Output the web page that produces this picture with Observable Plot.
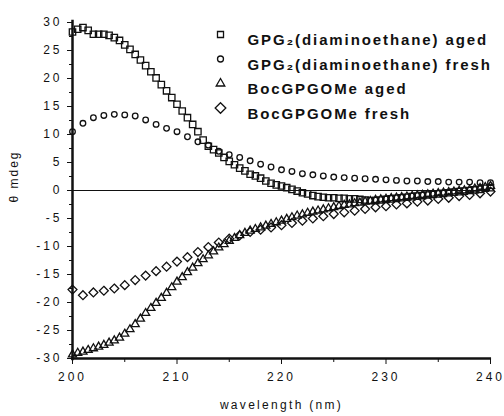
<!DOCTYPE html>
<html><head><meta charset="utf-8">
<script src="https://cdn.jsdelivr.net/npm/d3@7"></script>
<script src="https://cdn.jsdelivr.net/npm/@observablehq/plot@0.6"></script>
<style>
body{margin:0;background:#fff;}
#chart svg{display:block;}
#chart g[aria-label="y-axis tick label"] text,
#chart g[aria-label="x-axis tick label"] text{letter-spacing:3px;}
#chart .ylab text{letter-spacing:2px;}
#chart .xlab text{letter-spacing:2.3px;}
#chart .leg text{letter-spacing:1.9px;}
</style></head><body><div id="chart"></div>
<script>
// wavelength grids (nm)
const wlFine = d3.range(200, 240.001, 0.5);   // 0.5 nm sampling
const wlCoarse = d3.range(200, 240.001, 1);   // 1 nm sampling

// GPG2(diaminoethane) aged  (0.5 nm)
const gpgAged = [
  28.3,28.8,29.1,28.6,27.9,27.9,27.9,27.7,27.3,26.8,
  26.0,25.2,24.3,23.3,22.3,21.2,20.1,18.9,17.8,16.6,
  15.4,14.2,13.0,11.8,10.5,9.0,7.9,7.3,6.7,5.9,
  5.2,4.6,4.0,3.5,2.9,2.6,2.2,1.7,1.3,1.0,
  0.8,0.5,0.2,-0.1,-0.4,-0.6,-0.9,-1.1,-1.2,-1.3,
  -1.3,-1.4,-1.4,-1.5,-1.5,-1.6,-1.7,-1.8,-1.8,-1.7,
  -1.6,-1.5,-1.4,-1.3,-1.2,-1.1,-1.0,-0.9,-0.8,-0.7,
  -0.6,-0.5,-0.4,-0.3,-0.2,-0.1,0.0,0.1,0.2,0.4,
  0.5
];
// GPG2(diaminoethane) fresh (1 nm)
const gpgFresh = [
  10.5,12.0,13.0,13.4,13.6,13.5,13.3,12.6,11.8,11.1,
  10.5,9.6,8.7,8.1,7.0,6.4,5.9,5.3,4.7,4.2,
  3.7,3.4,3.0,2.8,2.6,2.4,2.3,2.2,2.1,2.0,
  1.9,1.8,1.7,1.7,1.6,1.6,1.5,1.5,1.5,1.4,
  1.4
];
// BocGPGOMe aged (0.5 nm)
const bocAged = [
  -29.3,-29.0,-28.8,-28.5,-28.2,-27.9,-27.6,-27.2,-26.8,-26.3,
  -25.6,-24.8,-23.9,-22.9,-21.9,-21.0,-20.1,-19.2,-18.3,-17.3,
  -16.3,-15.5,-14.6,-13.8,-13.0,-12.3,-11.6,-10.9,-10.2,-9.6,
  -9.0,-8.5,-8.0,-7.6,-7.2,-6.9,-6.6,-6.3,-6.0,-5.7,
  -5.4,-5.1,-4.8,-4.5,-4.3,-4.0,-3.8,-3.6,-3.4,-3.2,
  -3.0,-2.8,-2.6,-2.5,-2.3,-2.2,-2.0,-1.9,-1.7,-1.6,
  -1.5,-1.4,-1.3,-1.2,-1.1,-1.0,-0.9,-0.8,-0.7,-0.6,
  -0.5,-0.4,-0.3,-0.2,-0.1,0.0,0.1,0.3,0.4,0.6,
  0.8
];
// BocGPGOMe fresh (1 nm)
const bocFresh = [
  -17.7,-18.7,-18.2,-17.9,-17.5,-16.9,-16.0,-15.2,-14.4,-13.6,
  -12.7,-11.9,-11.0,-10.1,-9.3,-8.6,-8.0,-7.4,-7.0,-6.6,
  -6.2,-5.8,-5.4,-5.0,-4.6,-4.2,-3.9,-3.6,-3.3,-3.0,
  -2.8,-2.5,-2.3,-2.0,-1.8,-1.5,-1.3,-1.0,-0.8,-0.5,
  -0.2
];

const xMajor = [200, 210, 220, 230, 240];
const xMinor = [205, 215, 225, 235];
const yMajor = [-30, -25, -20, -15, -10, -5, 0, 5, 10, 15, 20, 25, 30];
const yMinor = [-27.5, -22.5, -17.5, -12.5, -7.5, -2.5, 2.5, 7.5, 12.5, 17.5, 22.5, 27.5];

const legendLabels = ["GPG\u2082(diaminoethane) aged", "GPG\u2082(diaminoethane) fresh", "BocGPGOMe aged", "BocGPGOMe fresh"];
const legendSymbols = ["square", "circle", "triangle", "diamond2"];
const legendR = [3.4, 3.0, 3.2, 4.8];

const toRows = (xs, ys) => xs.map((x, i) => ({x, y: ys[i]}));
const ink = "#111";
const sym = {fill: "none", stroke: ink, strokeWidth: 1.3};

const legendMarks = legendLabels.flatMap((lab, i) => [
  Plot.dot([lab], {x: null, y: null, frameAnchor: "top-left", dx: 148, dy: 12 + i * 24.5,
    symbol: legendSymbols[i], r: legendR[i], ...sym}),
  Plot.text([lab], {frameAnchor: "top-left", dx: 175, dy: 12 + i * 24.5, textAnchor: "start",
    fontSize: 15, fontWeight: "bold", fill: ink, className: "leg"})
]);

const plot = Plot.plot({
  width: 504, height: 416,
  marginLeft: 72, marginRight: 14, marginTop: 22, marginBottom: 58,
  x: {domain: [200, 240]},
  y: {domain: [-30, 30]},
  style: {fontFamily: "'Liberation Sans', Arial, sans-serif", fontSize: "12px", color: ink, background: "#fff"},
  marks: [
    Plot.ruleY([0], {x1: 200, x2: 240, stroke: ink, strokeWidth: 1}),
    Plot.dot(toRows(wlCoarse, gpgFresh), {x: "x", y: "y", symbol: "circle", r: 2.8, ...sym}),
    Plot.dot(toRows(wlCoarse, bocFresh), {x: "x", y: "y", symbol: "diamond2", r: 4.0, ...sym}),
    Plot.dot(toRows(wlFine, bocAged), {x: "x", y: "y", symbol: "triangle", r: 3.0, ...sym}),
    Plot.dot(toRows(wlFine, gpgAged), {x: "x", y: "y", symbol: "square", r: 3.6, ...sym}),
    Plot.axisY(yMajor, {tickSize: 5, tickPadding: 5, tickFormat: d => String(d), label: null, fontSize: 12}),
    Plot.axisY(yMinor, {tickSize: 3, tickFormat: () => "", label: null}),
    Plot.axisX(xMajor, {tickSize: 6, tickPadding: 8, tickFormat: d => String(d), label: null, fontSize: 12}),
    Plot.axisX(xMinor, {tickSize: 4, tickFormat: () => "", label: null}),
    Plot.ruleX([200], {y1: -30.4, y2: 30.4, stroke: ink, strokeWidth: 2.5}),
    Plot.ruleY([-30], {x1: 199.9, x2: 240.1, stroke: ink, strokeWidth: 2.5}),
    Plot.text(["\u03b8 mdeg"], {frameAnchor: "left", dx: -58, dy: 12, rotate: -90, fontSize: 12, fill: ink, className: "ylab"}),
    Plot.text(["wavelength (nm)"], {frameAnchor: "bottom", dy: 50, fontSize: 12, fill: ink, className: "xlab"}),
    ...legendMarks
  ]
});
document.getElementById("chart").appendChild(plot);
</script>
</body></html>
